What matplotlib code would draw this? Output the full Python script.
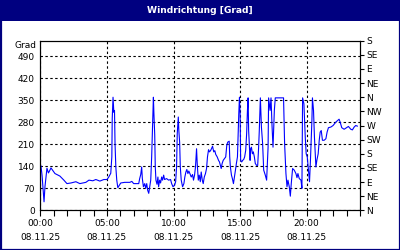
import matplotlib
matplotlib.use("Agg")
import matplotlib.pyplot as plt
from matplotlib.patches import Rectangle
from matplotlib.ticker import FixedLocator, MultipleLocator

title = "Windrichtung [Grad]"
unit_label = "Grad"
date_label = "08.11.25"
time_labels = ["00:00", "05:00", "10:00", "15:00", "20:00"]
time_ticks = [0, 5, 10, 15, 20]
left_ticks = [0, 70, 140, 210, 280, 350, 420, 490]
right_ticks = [0, 45, 90, 135, 180, 225, 270, 315, 360, 405, 450, 495, 540]
right_labels = ["N", "NE", "E", "SE", "S", "SW", "W", "NW", "N", "NE", "E", "SE", "S"]

hours = [0.05, 0.13, 0.28, 0.35, 0.43, 0.50, 0.61, 0.69, 0.80, 1.10, 1.47, 1.77, 2.00,
         2.30, 2.67, 2.97, 3.42, 3.65, 3.94, 4.17, 4.47, 4.77, 5.01, 5.14, 5.29, 5.37,
         5.40, 5.46, 5.52, 5.57, 5.61, 5.67, 5.74, 5.82, 5.94, 6.04, 6.34, 6.72, 6.87,
         7.01, 7.39, 7.46, 7.54, 7.61, 7.66, 7.74, 7.84, 7.91, 7.99, 8.06, 8.14, 8.21,
         8.29, 8.36, 8.44, 8.49, 8.53, 8.59, 8.63, 8.68, 8.76, 8.83, 8.88, 8.96, 9.03,
         9.11, 9.18, 9.26, 9.33, 9.48, 9.63, 9.78, 9.86, 9.96, 10.08, 10.16, 10.23, 10.28,
         10.36, 10.40, 10.46, 10.51, 10.58, 10.68, 10.78, 10.85, 10.93, 11.00, 11.08, 11.15,
         11.23, 11.33, 11.43, 11.50, 11.58, 11.65, 11.73, 11.78, 11.86, 11.93, 12.01, 12.08,
         12.16, 12.23, 12.31, 12.40, 12.48, 12.55, 12.63, 12.70, 12.78, 12.85, 12.93, 13.02,
         13.10, 13.17, 13.28, 13.38, 13.45, 13.58, 13.65, 13.73, 13.83, 13.92, 14.00, 14.07,
         14.18, 14.22, 14.27, 14.35, 14.42, 14.50, 14.57, 14.65, 14.72, 14.80, 14.85, 14.90,
         14.95, 15.00, 15.04, 15.12, 15.19, 15.27, 15.34, 15.42, 15.49, 15.55, 15.60, 15.64,
         15.70, 15.75, 15.79, 15.85, 15.92, 15.99, 16.07, 16.14, 16.24, 16.32, 16.39, 16.44,
         16.52, 16.60, 16.69, 16.77, 16.89, 16.99, 17.10, 17.14, 17.25, 17.32, 17.40, 17.47,
         17.57, 17.64, 18.26, 18.34, 18.44, 18.52, 18.59, 18.69, 18.77, 18.84, 18.94, 19.06,
         19.19, 19.27, 19.34, 19.44, 19.57, 19.64, 19.69, 19.79, 19.89, 19.96, 20.04, 20.13,
         20.21, 20.28, 20.39, 20.43, 20.51, 20.58, 20.69, 20.76, 20.86, 20.94, 21.01, 21.09,
         21.18, 21.31, 21.44, 21.53, 21.63, 21.81, 21.98, 22.19, 22.43, 22.51, 22.63, 22.81,
         22.98, 23.13, 23.31, 23.43, 23.56, 23.68, 23.80]

direction = [141, 112, 27, 75, 106, 134, 119, 125, 135, 117, 109, 96, 85,
             87, 91, 85, 89, 96, 94, 98, 93, 98, 98, 106, 118, 170,
             292, 360, 312, 318, 212, 138, 96, 72, 80, 87, 89, 89, 92,
             85, 85, 101, 114, 138, 101, 75, 85, 70, 85, 64, 54, 73,
             96, 170, 291, 360, 307, 240, 140, 96, 83, 106, 75, 96, 87,
             106, 96, 112, 98, 101, 96, 98, 85, 75, 80, 91, 138, 244,
             297, 254, 217, 138, 96, 75, 85, 106, 122, 130, 117, 125,
             117, 106, 114, 96, 112, 138, 196, 149, 96, 112, 91, 122,
             96, 85, 106, 117, 133, 170, 193, 186, 190, 196, 204, 186,
             190, 178, 170, 159, 154, 133, 149, 159, 165, 170, 207, 217,
             220, 170, 138, 112, 101, 85, 104, 128, 149, 170, 244, 307,
             360, 307, 159, 154, 159, 162, 170, 191, 244, 318, 358, 254,
             201, 159, 196, 201, 180, 186, 170, 149, 143, 143, 201, 254,
             358, 265, 212, 128, 112, 96, 201, 358, 318, 358, 265, 201,
             318, 358, 358, 212, 117, 75, 96, 75, 45, 85, 133, 128,
             117, 104, 117, 101, 96, 70, 358, 339, 233, 180, 170, 128,
             91, 159, 286, 358, 318, 233, 138, 159, 180, 223, 249, 254,
             223, 223, 228, 249, 263, 265, 270, 281, 290, 281, 263, 258,
             263, 267, 258, 256, 265, 270, 268]

navy = "#000080"
fs = 6.5
plt.rcParams["font.family"] = ["DejaVu Sans"]

fig = plt.figure(figsize=(4, 2.5), dpi=100, facecolor="white")
# title bar and frame
fig.patches.append(Rectangle((0, 1 - 21 / 250), 1, 21 / 250, transform=fig.transFigure,
                             facecolor=navy, edgecolor="none", zorder=0))
fig.patches.append(Rectangle((0.5 / 400, 0.5 / 250), 399 / 400, 249 / 250, transform=fig.transFigure,
                             facecolor="none", edgecolor=navy, linewidth=1.6, zorder=1))
fig.text(0.5, 1 - 10.5 / 250, title, color="white", fontsize=6.6, fontweight="bold",
         ha="center", va="center")

ax = fig.add_axes([40.3 / 400, 39.7 / 250, 319.7 / 400, 169.6 / 250])
ax.plot(hours, direction, color="#0000ff", linewidth=0.8, zorder=3)
ax.set_xlim(0, 24)
ax.set_ylim(0, 540)

ax.xaxis.set_major_locator(FixedLocator(time_ticks))
ax.xaxis.set_minor_locator(MultipleLocator(1))
ax.set_xticklabels([f"{t}\n{date_label}" for t in time_labels], fontsize=fs, linespacing=1.7)
ax.yaxis.set_major_locator(FixedLocator(left_ticks))
ax.set_yticklabels([str(v) for v in left_ticks], fontsize=fs)
ax.tick_params(axis="x", which="both", direction="out", length=4, width=0.8, pad=2)
ax.tick_params(axis="y", which="both", length=0, pad=4)

ax.grid(True, which="major", color="black", linestyle=(0, (2.2, 2.2)), linewidth=0.8, zorder=1)
for s in ax.spines.values():
    s.set_linewidth(0.8)
    s.set_color("black")
ax.spines["top"].set_visible(True)

ax2 = ax.twinx()
ax2.set_ylim(0, 540)
ax2.yaxis.set_major_locator(FixedLocator(right_ticks))
ax2.set_yticklabels(right_labels, fontsize=fs)
ax2.tick_params(axis="y", direction="out", length=3, width=0.8, pad=1.5)

ax.text(-0.012, 1.0, unit_label, transform=ax.transAxes, fontsize=fs, ha="right", va="top")

fig.savefig("out.png", dpi=100, facecolor="white")
